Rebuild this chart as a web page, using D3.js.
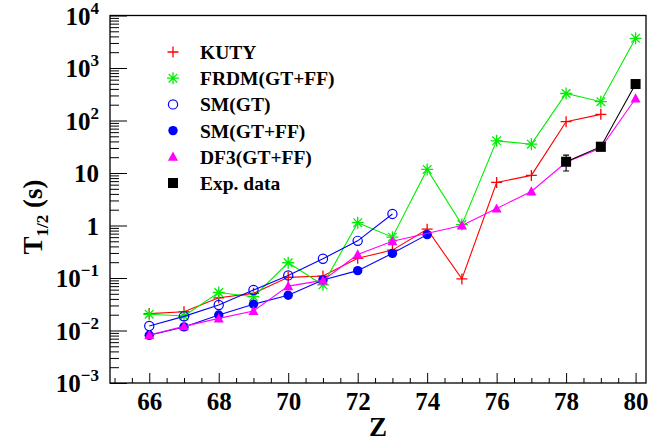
<!DOCTYPE html>
<html>
<head>
<meta charset="utf-8">
<script src="https://cdn.jsdelivr.net/npm/d3@7"></script>
<style>
html,body{margin:0;padding:0;background:#fff;}
</style>
</head>
<body>
<svg id="chart" width="649" height="441"></svg>
<script>
// ---------- data ----------
const zKUTY = [66,67,68,69,70,71,72,73,74,75,76,77,78,79];
const vKUTY = [0.021,0.0228,0.042,0.051,0.103,0.109,0.237,0.34,0.85,0.096,6.6,9.0,95,131];

const zFRDM = [66,67,68,69,70,71,72,73,74,75,76,77,78,79,80];
const vFRDM = [0.0204,0.0189,0.053,0.044,0.195,0.074,1.13,0.60,11.7,1.04,41,35.4,327,228,3680];

const zSMGT = [66,67,68,69,70,71,72,73];
const vSMGT = [0.0122,0.0186,0.0306,0.059,0.112,0.233,0.51,1.66];

const zSMFF = [66,67,68,69,70,71,72,73,74];
const vSMFF = [0.0081,0.0117,0.0197,0.0316,0.047,0.092,0.138,0.295,0.67];

const zDF3 = [66,67,68,69,70,71,72,73,75,76,77,78,79,80];
const vDF3 = [0.0082,0.0120,0.017,0.0235,0.070,0.090,0.28,0.50,1.0,2.1,4.45,16,30,262];

const zExp = [78,79,80];
const vExp = [16.4,31.7,495];
const eExp = [5.5,0,0];

const legendLabels = ["KUTY","FRDM(GT+FF)","SM(GT)","SM(GT+FF)","DF3(GT+FF)","Exp. data"];
const xTickValues = [66,68,70,72,74,76,78,80];
const yTickExponents = [-3,-2,-1,0,1,2,3,4];

// ---------- layout ----------
const FONT = "Liberation Serif, Times New Roman, DejaVu Serif, serif";
const svg = d3.select("#chart");
const L = 110, R = 646, T = 15.5, B = 383;
const x = d3.scaleLinear().domain([64.87, 80.3]).range([L, R]);
const y = d3.scaleLog().domain([1e-3, 1e4]).range([B, T]);

function txt(sel) {
  return sel.style("font-family", FONT).attr("font-weight", "bold").attr("fill", "#000");
}

// minor ticks
const xMinor = d3.range(65, 80.3, 0.5).filter(v => !xTickValues.includes(v));
const yMinor = [];
for (let e = -3; e < 4; e++) for (let k = 2; k <= 9; k++) yMinor.push(k * Math.pow(10, e));

svg.append("g").attr("transform", `translate(0,${B})`)
  .call(d3.axisBottom(x).tickValues(xMinor).tickSize(-5).tickFormat(""))
  .call(g => g.select(".domain").remove())
  .call(g => g.selectAll("line").attr("stroke", "#000"));

svg.append("g").attr("transform", `translate(0,${B})`)
  .call(d3.axisBottom(x).tickValues(xTickValues).tickSize(-10).tickPadding(9).tickFormat(d3.format("d")))
  .call(g => g.select(".domain").remove())
  .call(g => g.attr("font-family", null))
  .call(g => g.selectAll("line").attr("stroke", "#000"))
  .call(g => txt(g.selectAll("text")).attr("font-size", 25));

svg.append("g").attr("transform", `translate(${L},0)`)
  .call(d3.axisLeft(y).tickValues(yMinor).tickSize(-9).tickFormat(""))
  .call(g => g.select(".domain").remove())
  .call(g => g.selectAll("line").attr("stroke", "#000"));

svg.append("g").attr("transform", `translate(${L},0)`)
  .call(d3.axisLeft(y).tickValues(yTickExponents.map(e => Math.pow(10, e))).tickSize(-17).tickFormat(""))
  .call(g => g.select(".domain").remove())
  .call(g => g.selectAll("line").attr("stroke", "#000"));

// y tick labels with superscripts
const yl = svg.append("g");
yTickExponents.forEach(e => {
  const t = txt(yl.append("text"))
    .attr("x", 99).attr("y", y(Math.pow(10, e)) + 9)
    .attr("text-anchor", "end").attr("font-size", 25);
  if (e === 0) t.text("1");
  else if (e === 1) t.text("10");
  else {
    t.append("tspan").text("10");
    t.append("tspan").attr("font-size", 17).attr("dy", -11).text(e < 0 ? "\u2212" + (-e) : String(e));
  }
});

// frame
svg.append("rect").attr("x", L).attr("y", T).attr("width", R - L).attr("height", B - T)
  .attr("fill", "none").attr("stroke", "#000").attr("stroke-width", 1.3);

// axis titles
txt(svg.append("text")).attr("x", 378).attr("y", 436).attr("text-anchor", "middle")
  .attr("font-size", 27).text("Z");
const yt = txt(svg.append("text")).attr("transform", "translate(42,217) rotate(-90)")
  .attr("text-anchor", "middle").attr("font-size", 27);
yt.append("tspan").text("T");
yt.append("tspan").attr("font-size", 17).attr("dy", 6).text("1/2");
yt.append("tspan").attr("dy", -6).text(" (s)");

// ---------- series ----------
const plot = svg.append("g");
const line = d3.line().x(d => x(d[0])).y(d => y(d[1]));

function marker(g, type, color) {
  if (type === "plus") {
    g.append("path").attr("d", "M-5.5,0H5.5M0,-5.5V5.5").attr("stroke", color).attr("stroke-width", 1.3).attr("fill", "none");
  } else if (type === "star") {
    g.append("path").attr("d", "M-6,0H6M0,-6V6M-4.3,-4.3L4.3,4.3M-4.3,4.3L4.3,-4.3").attr("stroke", color).attr("stroke-width", 1.3).attr("fill", "none");
  } else if (type === "ocircle") {
    g.append("circle").attr("r", 4.6).attr("fill", "none").attr("stroke", color).attr("stroke-width", 1.2);
  } else if (type === "fcircle") {
    g.append("circle").attr("r", 4.7).attr("fill", color);
  } else if (type === "tri") {
    g.append("path").attr("d", "M0,-5.2L5,4L-5,4Z").attr("fill", color);
  } else if (type === "square") {
    g.append("rect").attr("x", -5).attr("y", -5).attr("width", 10).attr("height", 10).attr("fill", color);
  }
}

const series = [
  {z: zKUTY, v: vKUTY, color: "#ff0000", m: "plus"},
  {z: zFRDM, v: vFRDM, color: "#00ee00", m: "star"},
  {z: zSMGT, v: vSMGT, color: "#0000ff", m: "ocircle"},
  {z: zSMFF, v: vSMFF, color: "#0000ff", m: "fcircle"},
  {z: zDF3, v: vDF3, color: "#ff00ff", m: "tri"},
  {z: zExp, v: vExp, color: "#000000", m: "square"}
];

series.forEach((s, i) => {
  const pts = s.z.map((z, j) => [z, s.v[j]]);
  const g = plot.append("g");
  g.append("path").datum(pts).attr("d", line).attr("fill", "none").attr("stroke", s.color).attr("stroke-width", 1.1);
  if (s.m === "square") {
    pts.forEach((p, j) => {
      if (eExp[j] > 0) {
        const y0 = y(p[1] + eExp[j]), y1 = y(p[1] - eExp[j]);
        g.append("path").attr("d", `M${x(p[0])},${y0}V${y1}M${x(p[0]) - 3},${y0}H${x(p[0]) + 3}M${x(p[0]) - 3},${y1}H${x(p[0]) + 3}`)
          .attr("stroke", "#000").attr("stroke-width", 1.1).attr("fill", "none");
      }
    });
  }
  pts.forEach(p => {
    const mg = g.append("g").attr("transform", `translate(${x(p[0])},${y(p[1])})`);
    marker(mg, s.m, s.color);
  });
  // legend
  const ly = 52 + i * 26.2;
  const lg = svg.append("g").attr("transform", `translate(173,${ly})`);
  marker(lg, s.m, s.color);
  txt(svg.append("text")).attr("x", 200).attr("y", ly + 7).attr("font-size", 19.5).text(legendLabels[i]);
});
</script>
</body>
</html>
